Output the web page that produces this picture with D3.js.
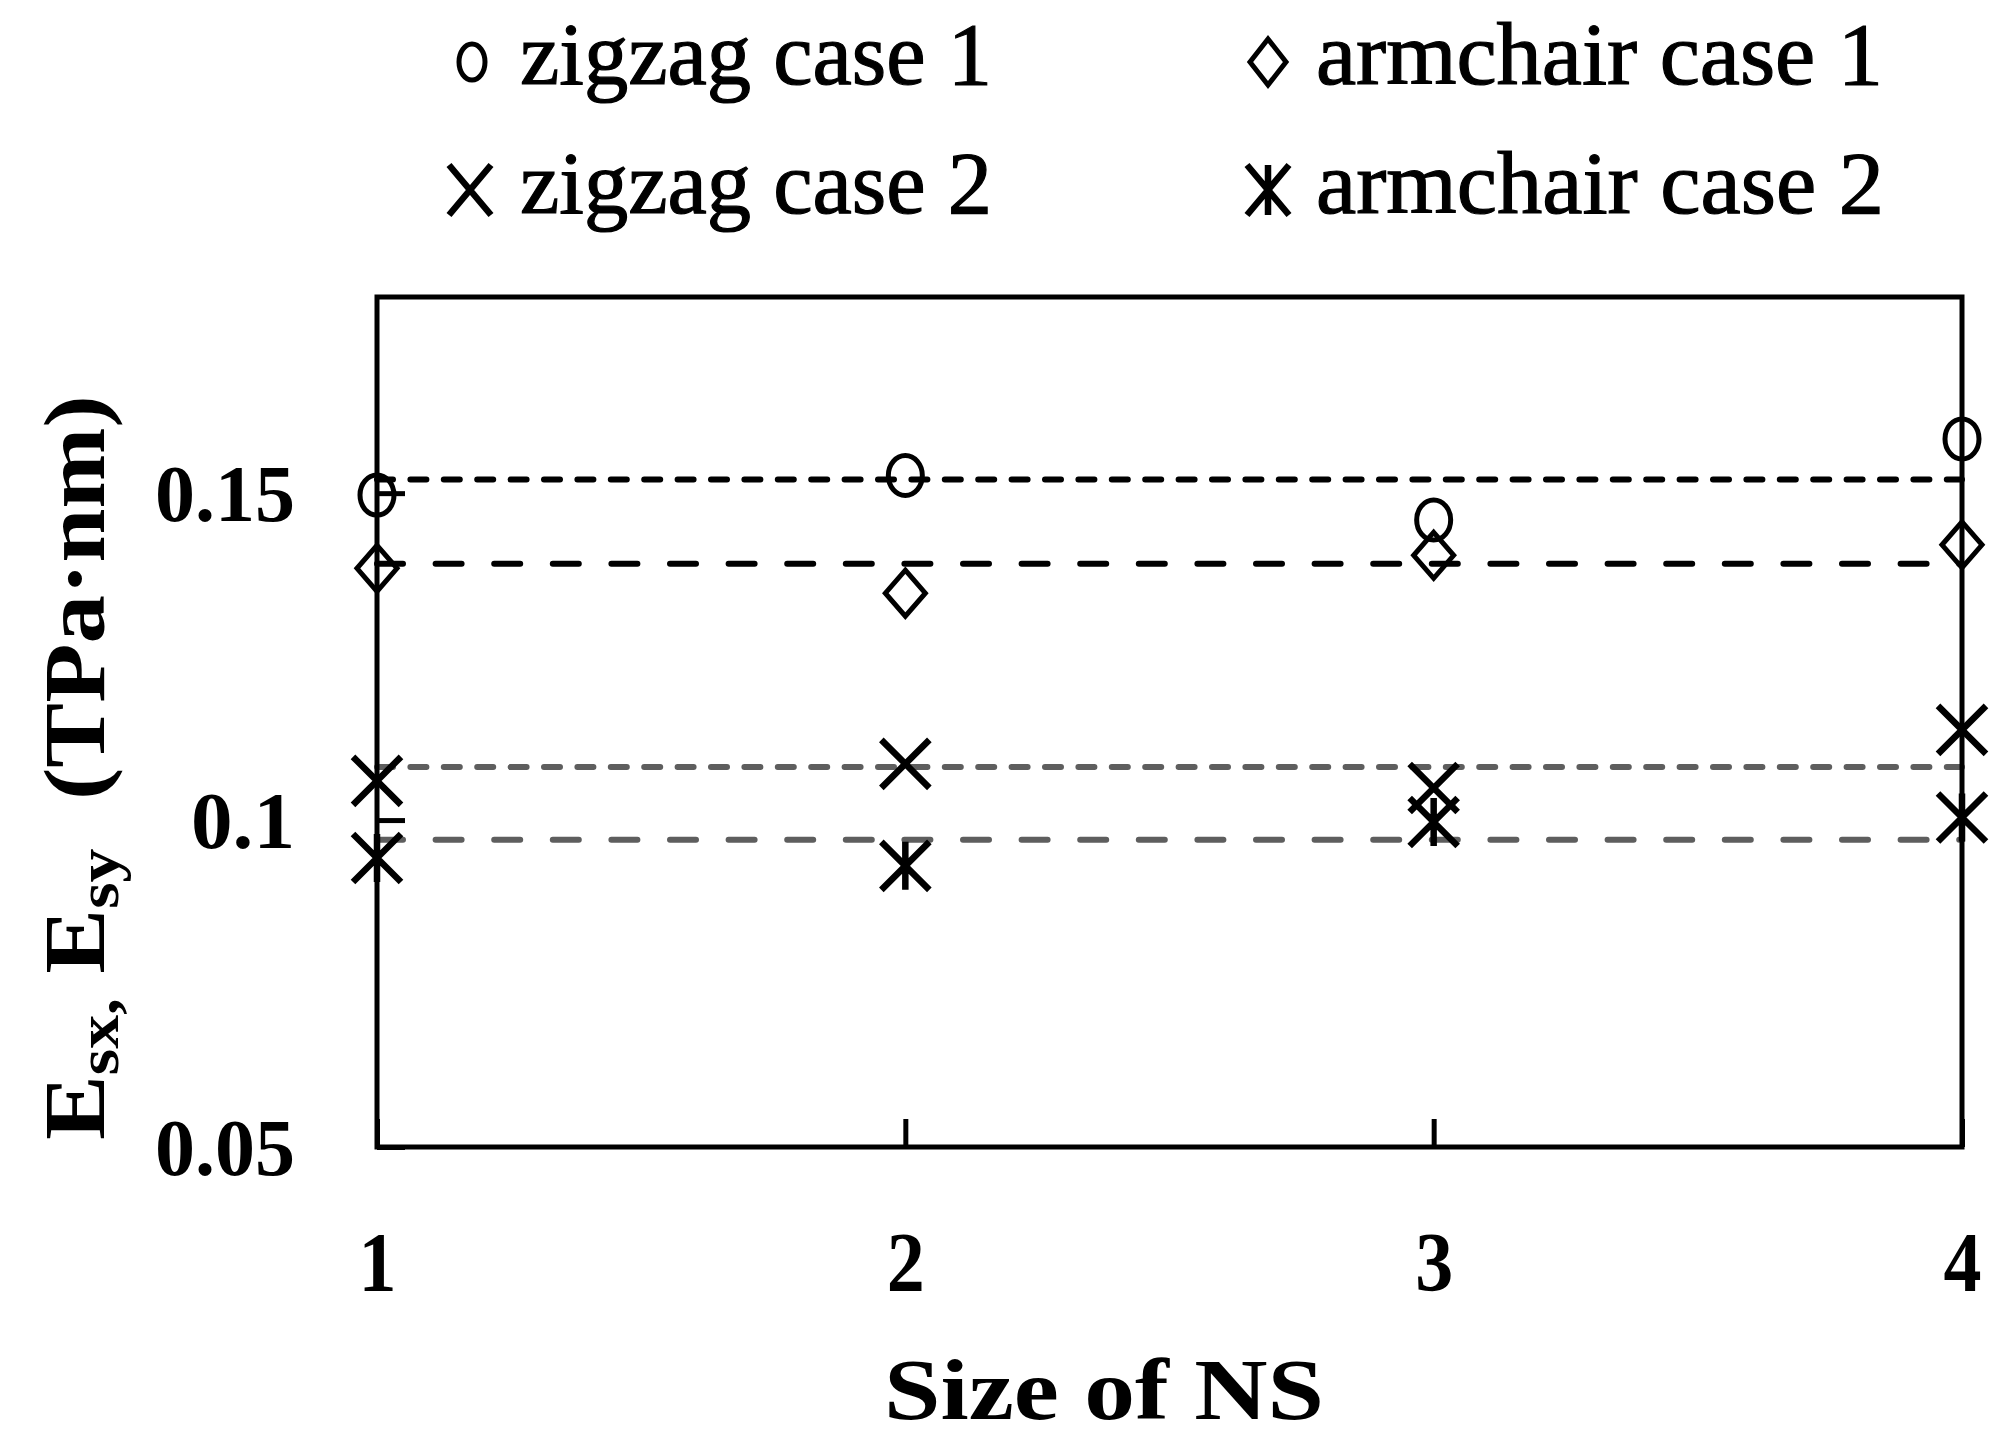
<!DOCTYPE html>
<html>
<head>
<meta charset="utf-8">
<script src="https://cdn.jsdelivr.net/npm/d3@7"></script>
<style>
  html, body { margin: 0; padding: 0; background: #fff; }
  svg { display: block; }
  .serif { font-family: "Liberation Serif", "Times New Roman", Tinos, Times, serif; }
</style>
</head>
<body>
<svg id="chart" width="2015" height="1455"></svg>
<script>
// ---------------- data ----------------
const sizes = [1, 2, 3, 4];
const zigzagCase1 = [0.1497, 0.1527, 0.1459, 0.1583];
const armchairCase1 = [0.1385, 0.1347, 0.1405, 0.1421];
const zigzagCase2 = [0.1060, 0.1086, 0.1049, 0.1138];
const armchairCase2 = [0.0942, 0.0930, 0.0997, 0.1004];
// horizontal reference (average) lines
const meanLines = [0.1521, 0.1392, 0.1081, 0.0970];
const yTicks = [0.05, 0.1, 0.15];
const yTickLabels = ["0.05", "0.1", "0.15"];
const xTickLabels = ["1", "2", "3", "4"];
const legendLabels = ["zigzag case 1", "armchair case 1", "zigzag case 2", "armchair case 2"];

// ---------------- layout ----------------
const svg = d3.select("#chart");
const L = 377, R = 1962, T = 297, B = 1147;
const x = d3.scaleLinear().domain([1, 4]).range([L, R]);
const y = d3.scaleLinear().domain([0.05, 0.18]).range([B, T]);

// ---------------- marker shapes ----------------
function diamondPath(cx, cy, w, h) {
  return `M${cx},${cy - h}L${cx + w},${cy}L${cx},${cy + h}L${cx - w},${cy}Z`;
}
function xPath(cx, cy, w, h) {
  return `M${cx - w},${cy - h}L${cx + w},${cy + h}M${cx + w},${cy - h}L${cx - w},${cy + h}`;
}
function starPath(cx, cy, w, h) {
  return xPath(cx, cy, w, h) + `M${cx},${cy - h}L${cx},${cy + h}`;
}
function drawMarker(g, type, cx, cy, s) {
  if (type === "circle") {
    g.append("ellipse").attr("cx", cx).attr("cy", cy)
      .attr("rx", s.rx).attr("ry", s.ry)
      .attr("fill", "none").attr("stroke", "#000").attr("stroke-width", 5);
  } else if (type === "diamond") {
    g.append("path").attr("d", diamondPath(cx, cy, s.dw, s.dh))
      .attr("fill", "none").attr("stroke", "#000").attr("stroke-width", 5)
      .attr("stroke-linejoin", "miter");
  } else if (type === "x") {
    g.append("path").attr("d", xPath(cx, cy, s.xw, s.xh))
      .attr("fill", "none").attr("stroke", "#000").attr("stroke-width", 6.5);
  } else {
    g.append("path").attr("d", starPath(cx, cy, s.xw, s.xh))
      .attr("fill", "none").attr("stroke", "#000").attr("stroke-width", 6.5);
  }
}
const plotSize = { rx: 17, ry: 20, dw: 20, dh: 23, xw: 24, xh: 24 };
const legendSize = { rx: 13, ry: 18, dw: 18, dh: 23, xw: 21, xh: 25 };

// ---------------- dashed mean lines ----------------
const lineStyles = [
  { color: "#000", dash: "16 17.4" },
  { color: "#000", dash: "26 32.6" },
  { color: "#5e5e5e", dash: "16 17.4" },
  { color: "#5e5e5e", dash: "26 32.6" }
];
const lineGen = d3.line().x(d => x(d[0])).y(d => y(d[1]));
const gLines = svg.append("g");
meanLines.forEach((m, i) => {
  const ends = [[sizes[0], m], [sizes[sizes.length - 1], m]];
  gLines.append("path").attr("d", lineGen(ends))
    .attr("fill", "none")
    .attr("stroke", lineStyles[i].color)
    .attr("stroke-width", 6)
    .attr("stroke-linecap", "round")
    .attr("stroke-dasharray", lineStyles[i].dash);
});

// ---------------- axes ----------------
const yAxis = d3.axisLeft(y).tickValues(yTicks)
  .tickFormat((d, i) => yTickLabels[i]).tickSize(-28).tickPadding(82);
const gy = svg.append("g").attr("transform", `translate(${L},0)`).call(yAxis);
gy.select(".domain").remove();
gy.attr("font-family", null);
gy.selectAll(".tick line").attr("stroke", "#000").attr("stroke-width", 5);
const yLabelW = { "0.05": 140, "0.1": 104, "0.15": 140 };
gy.selectAll(".tick text")
  .attr("class", "serif")
  .attr("font-weight", "bold").attr("font-size", 80)
  .attr("fill", "#000")
  .attr("text-anchor", "start")
  .attr("dy", "0.34em")
  .attr("x", function () { return -82 - yLabelW[this.textContent]; })
  .attr("textLength", function () { return yLabelW[this.textContent]; })
  .attr("lengthAdjust", "spacingAndGlyphs");

const xAxis = d3.axisBottom(x).tickValues(sizes)
  .tickFormat((d, i) => xTickLabels[i]).tickSize(-28).tickPadding(84);
const gx = svg.append("g").attr("transform", `translate(0,${B})`).call(xAxis);
gx.select(".domain").remove();
gx.attr("font-family", null);
gx.selectAll(".tick line").attr("stroke", "#000").attr("stroke-width", 5);
gx.selectAll(".tick text")
  .attr("class", "serif")
  .attr("font-weight", "bold").attr("font-size", 84)
  .attr("fill", "#000")
  .attr("text-anchor", "start")
  .attr("x", -19)
  .attr("textLength", 38)
  .attr("lengthAdjust", "spacingAndGlyphs");

// frame
svg.append("rect").attr("x", L).attr("y", T).attr("width", R - L).attr("height", B - T)
  .attr("fill", "none").attr("stroke", "#000").attr("stroke-width", 5);

// ---------------- markers ----------------
const series = [
  { vals: zigzagCase1, type: "circle" },
  { vals: armchairCase1, type: "diamond" },
  { vals: zigzagCase2, type: "x" },
  { vals: armchairCase2, type: "star" }
];
const gMarks = svg.append("g");
series.forEach(s => {
  s.vals.forEach((v, i) => drawMarker(gMarks, s.type, x(sizes[i]), y(v), plotSize));
});

// ---------------- axis titles ----------------
svg.append("text").attr("class", "serif")
  .attr("x", 884).attr("y", 1419)
  .attr("font-weight", "bold").attr("font-size", 86)
  .attr("textLength", 440).attr("lengthAdjust", "spacingAndGlyphs")
  .text("Size of NS");

const ytG = svg.append("g");
const yt = ytG.append("text").attr("class", "serif")
  .attr("font-weight", "bold").attr("font-size", 86)
  .style("white-space", "pre");
yt.append("tspan").text("E");
yt.append("tspan").attr("font-size", 60).attr("dy", 14).text("sx,");
yt.append("tspan").attr("font-size", 86).attr("dy", -14).text(" E");
yt.append("tspan").attr("font-size", 60).attr("dy", 14).text("sy");
yt.append("tspan").attr("font-size", 86).attr("dy", -14).text("  (TPa\u00B7nm)");
const natural = yt.node().getComputedTextLength();
const yStart = 1140, yEnd = 395;
ytG.attr("transform", `translate(104,${yStart}) rotate(-90) scale(${(yStart - yEnd) / natural},1)`);

// ---------------- legend ----------------
const legendPos = [
  { mx: 472, my: 62, tx: 520, ty: 84, w: 472, type: "circle" },
  { mx: 1268, my: 62, tx: 1316, ty: 84, w: 567, type: "diamond" },
  { mx: 470, my: 190, tx: 520, ty: 213, w: 472, type: "x" },
  { mx: 1268, my: 190, tx: 1316, ty: 213, w: 568, type: "star" }
];
const gLeg = svg.append("g");
legendLabels.forEach((lab, i) => {
  const p = legendPos[i];
  drawMarker(gLeg, p.type, p.mx, p.my, legendSize);
  gLeg.append("text").attr("class", "serif").attr("x", p.tx).attr("y", p.ty)
    .attr("font-size", 88).attr("fill", "#000")
    .attr("stroke", "#000").attr("stroke-width", 1.2)
    .attr("textLength", p.w).attr("lengthAdjust", "spacingAndGlyphs")
    .text(lab);
});
</script>
</body>
</html>
